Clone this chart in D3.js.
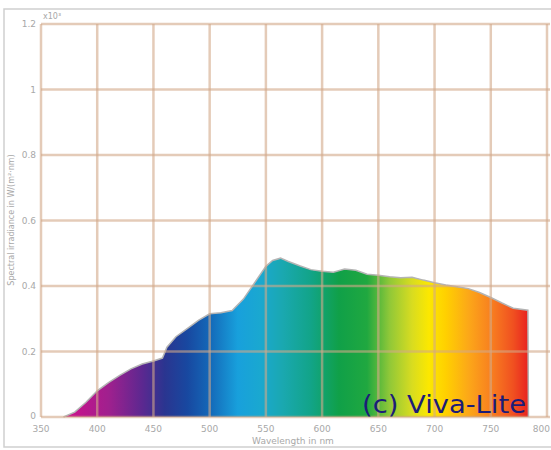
<!DOCTYPE html>
<html>
<head>
<meta charset="utf-8">
<script src="https://cdn.jsdelivr.net/npm/d3@7"></script>
<style>
  body { margin: 0; background: #fff; }
  text { font-family: "DejaVu Sans", sans-serif; }
</style>
</head>
<body>
<div id="chart"></div>
<script>
const width = 551;
const height = 450;

// spectrum (nm, relative value)
const wavelengths = [370, 380, 390, 400, 410, 420, 430, 440, 450, 458, 462, 470, 480, 490, 500, 510, 520, 530, 540, 550, 556, 563, 570, 580, 590, 600, 610, 620, 630, 640, 650, 660, 670, 680, 690, 700, 710, 720, 730, 740, 750, 760, 770, 783, 783.5];
const values = [0.0, 0.015, 0.045, 0.08, 0.105, 0.127, 0.147, 0.162, 0.171, 0.18, 0.213, 0.245, 0.27, 0.295, 0.315, 0.318, 0.325, 0.36, 0.41, 0.46, 0.478, 0.485, 0.475, 0.462, 0.45, 0.445, 0.442, 0.452, 0.448, 0.436, 0.433, 0.428, 0.425, 0.427, 0.418, 0.41, 0.403, 0.398, 0.392, 0.38, 0.365, 0.348, 0.332, 0.326, 0];

const xTicks = [350, 400, 450, 500, 550, 600, 650, 700, 750, 800];
const yTicks = [0, 0.2, 0.4, 0.6, 0.8, 1, 1.2];

const spectrumStops = [
  [370, "#d0108c"], [410, "#a0208e"], [440, "#5c2890"], [460, "#2a3590"],
  [480, "#1848a0"], [500, "#1468b8"], [525, "#18a0dc"], [545, "#1aa8d0"],
  [565, "#1aa8b0"], [590, "#12a488"], [615, "#10a048"], [640, "#20a840"],
  [660, "#90c838"], [680, "#d8dc20"], [695, "#fce800"], [710, "#ffd000"],
  [730, "#fca818"], [750, "#f88020"], [770, "#f05020"], [784, "#e82020"]
];

const margin = { left: 41, right: 4, top: 24, bottom: 33 };

const x = d3.scaleLinear().domain([350, 800]).range([margin.left, width - margin.right]);
const y = d3.scaleLinear().domain([0, 1.2]).range([height - margin.bottom, margin.top]);

const svg = d3.select("#chart")
  .append("svg")
  .attr("width", width)
  .attr("height", height);

// outer frame
svg.append("rect")
  .attr("x", 4)
  .attr("y", 9)
  .attr("width", 570)
  .attr("height", 438)
  .attr("fill", "none")
  .attr("stroke", "#cfcfcf")
  .attr("stroke-width", 1.5);

const grad = svg.append("defs").append("linearGradient")
  .attr("id", "spectrum")
  .attr("gradientUnits", "userSpaceOnUse")
  .attr("x1", x(370)).attr("x2", x(784))
  .attr("y1", 0).attr("y2", 0);

grad.selectAll("stop")
  .data(spectrumStops)
  .enter().append("stop")
  .attr("offset", d => (d[0] - 370) / (784 - 370))
  .attr("stop-color", d => d[1]);

const data = wavelengths.map((w, i) => ({ w: w, v: values[i] }));

const area = d3.area()
  .x(d => x(d.w))
  .y0(y(0))
  .y1(d => y(d.v));

svg.append("path")
  .datum(data)
  .attr("d", area)
  .attr("fill", "url(#spectrum)");

svg.append("path")
  .datum(data)
  .attr("d", d3.line().x(d => x(d.w)).y(d => y(d.v)))
  .attr("fill", "none")
  .attr("stroke", "#b4b4b4")
  .attr("stroke-width", 1.5);

// grid over the fill
const grid = svg.append("g")
  .attr("stroke", "#d2a888")
  .attr("stroke-opacity", 0.6)
  .attr("stroke-width", 2.5);

grid.selectAll(".vline")
  .data(xTicks)
  .enter().append("line")
  .attr("x1", d => x(d)).attr("x2", d => x(d))
  .attr("y1", y(1.2)).attr("y2", y(0));

grid.selectAll(".hline")
  .data(yTicks)
  .enter().append("line")
  .attr("x1", x(350)).attr("x2", x(800) + 3)
  .attr("y1", d => y(d)).attr("y2", d => y(d));

// tick labels
svg.append("g")
  .selectAll("text")
  .data(xTicks)
  .enter().append("text")
  .attr("x", d => d === 800 ? width - 1 : x(d))
  .attr("y", height - margin.bottom + 15)
  .attr("text-anchor", d => d === 800 ? "end" : "middle")
  .attr("font-size", 9)
  .attr("fill", "#a8a8a8")
  .text(d => d);

svg.append("g")
  .selectAll("text")
  .data(yTicks)
  .enter().append("text")
  .attr("x", margin.left - 5)
  .attr("y", d => d === 0 ? y(d) + 2 : y(d) + 3)
  .attr("text-anchor", "end")
  .attr("font-size", 9)
  .attr("fill", "#a8a8a8")
  .text(d => d);

svg.append("text")
  .attr("x", margin.left + 2)
  .attr("y", 19)
  .attr("font-size", 8)
  .attr("fill", "#a8a8a8")
  .text("x10³");

// axis titles
svg.append("text")
  .attr("x", 293)
  .attr("y", 444)
  .attr("text-anchor", "middle")
  .attr("font-size", 9)
  .attr("fill", "#a8a8a8")
  .text("Wavelength in nm");

svg.append("text")
  .attr("transform", "translate(14,220) rotate(-90)")
  .attr("text-anchor", "middle")
  .attr("font-size", 8)
  .attr("fill", "#a8a8a8")
  .text("Spectral irradiance in W/(m²·nm)");

// watermark
svg.append("text")
  .attr("x", 362)
  .attr("y", 413)
  .attr("font-size", 24)
  .attr("textLength", 164)
  .attr("lengthAdjust", "spacingAndGlyphs")
  .attr("fill", "#1c1c78")
  .text("(c) Viva-Lite");
</script>
</body>
</html>
